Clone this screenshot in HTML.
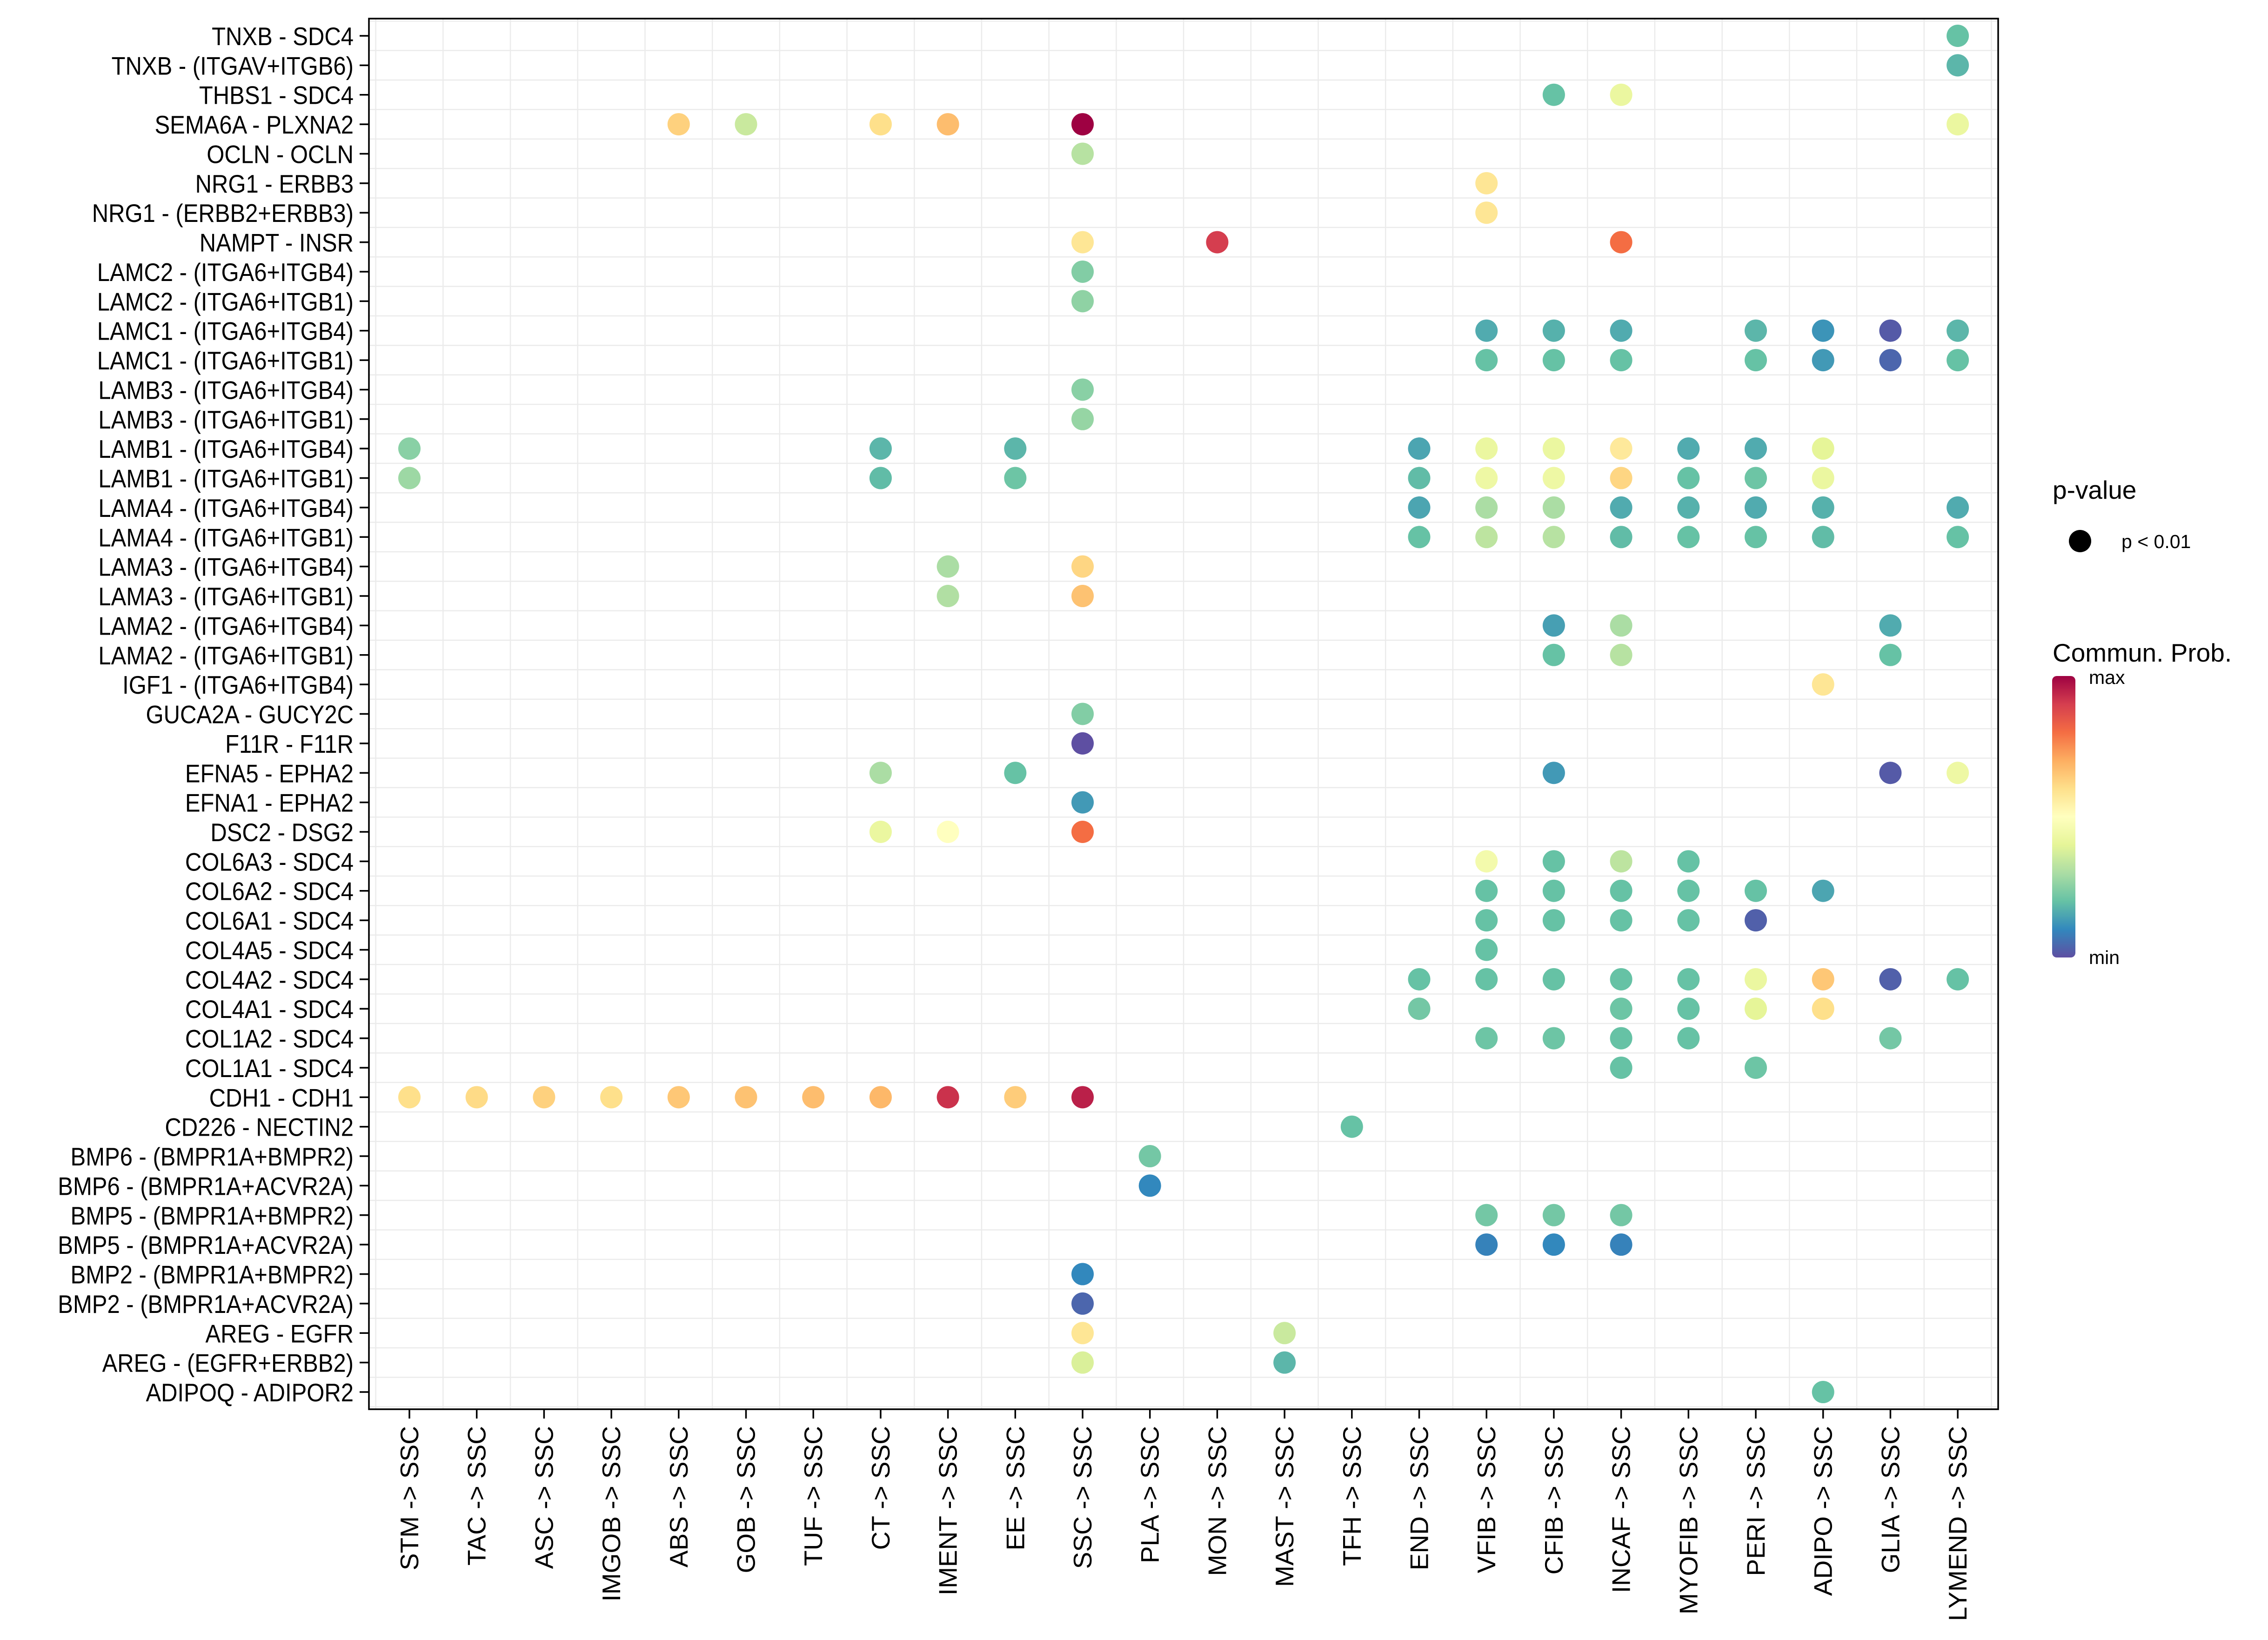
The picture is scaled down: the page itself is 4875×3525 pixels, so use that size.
<!DOCTYPE html>
<html><head><meta charset="utf-8"><style>
html,body{margin:0;padding:0;background:#fff;overflow:hidden}
svg{display:block}
text{font-family:"Liberation Sans",Arial,sans-serif;fill:#000}
</style></head><body>
<svg id="chart" width="4875" height="3525" viewBox="0 0 4875 3525" xmlns="http://www.w3.org/2000/svg">
<rect width="4875" height="3525" fill="#fff"/>
<g id="grid"></g>
<g id="dots"></g>
<rect x="793" y="40" width="3502" height="2989" fill="none" stroke="#000" stroke-width="3.5"/>
<g id="ylabels"></g>
<g id="xlabels"></g>
<g>
<text font-size="55" x="4412" y="1072">p-value</text>
<ellipse cx="4471" cy="1163" rx="24" ry="24" fill="#000"/>
<text font-size="41" x="4560" y="1178">p &lt; 0.01</text>
</g>
<g>
<defs><linearGradient id="cg" x1="0" y1="1" x2="0" y2="0">
<stop offset="0" stop-color="#5E4FA2"/><stop offset="0.1" stop-color="#3288BD"/><stop offset="0.2" stop-color="#66C2A5"/><stop offset="0.3" stop-color="#ABDDA4"/><stop offset="0.4" stop-color="#E6F598"/><stop offset="0.5" stop-color="#FFFFBF"/><stop offset="0.6" stop-color="#FEE08B"/><stop offset="0.7" stop-color="#FDAE61"/><stop offset="0.8" stop-color="#F46D43"/><stop offset="0.9" stop-color="#D53E4F"/><stop offset="1" stop-color="#9E0142"/>
</linearGradient></defs>
<text font-size="55" x="4412" y="1422">Commun. Prob.</text>
<rect x="4411" y="1453" width="50" height="605" rx="10" fill="url(#cg)"/>
<text font-size="41" x="4490" y="1470">max</text>
<text font-size="41" x="4490" y="2072">min</text>
</g>
</svg>
<script>
const rowNames = ["TNXB - SDC4","TNXB - (ITGAV+ITGB6)","THBS1 - SDC4","SEMA6A - PLXNA2","OCLN - OCLN","NRG1 - ERBB3","NRG1 - (ERBB2+ERBB3)","NAMPT - INSR","LAMC2 - (ITGA6+ITGB4)","LAMC2 - (ITGA6+ITGB1)","LAMC1 - (ITGA6+ITGB4)","LAMC1 - (ITGA6+ITGB1)","LAMB3 - (ITGA6+ITGB4)","LAMB3 - (ITGA6+ITGB1)","LAMB1 - (ITGA6+ITGB4)","LAMB1 - (ITGA6+ITGB1)","LAMA4 - (ITGA6+ITGB4)","LAMA4 - (ITGA6+ITGB1)","LAMA3 - (ITGA6+ITGB4)","LAMA3 - (ITGA6+ITGB1)","LAMA2 - (ITGA6+ITGB4)","LAMA2 - (ITGA6+ITGB1)","IGF1 - (ITGA6+ITGB4)","GUCA2A - GUCY2C","F11R - F11R","EFNA5 - EPHA2","EFNA1 - EPHA2","DSC2 - DSG2","COL6A3 - SDC4","COL6A2 - SDC4","COL6A1 - SDC4","COL4A5 - SDC4","COL4A2 - SDC4","COL4A1 - SDC4","COL1A2 - SDC4","COL1A1 - SDC4","CDH1 - CDH1","CD226 - NECTIN2","BMP6 - (BMPR1A+BMPR2)","BMP6 - (BMPR1A+ACVR2A)","BMP5 - (BMPR1A+BMPR2)","BMP5 - (BMPR1A+ACVR2A)","BMP2 - (BMPR1A+BMPR2)","BMP2 - (BMPR1A+ACVR2A)","AREG - EGFR","AREG - (EGFR+ERBB2)","ADIPOQ - ADIPOR2"];
const colNames = ["STM -> SSC","TAC -> SSC","ASC -> SSC","IMGOB -> SSC","ABS -> SSC","GOB -> SSC","TUF -> SSC","CT -> SSC","IMENT -> SSC","EE -> SSC","SSC -> SSC","PLA -> SSC","MON -> SSC","MAST -> SSC","TFH -> SSC","END -> SSC","VFIB -> SSC","CFIB -> SSC","INCAF -> SSC","MYOFIB -> SSC","PERI -> SSC","ADIPO -> SSC","GLIA -> SSC","LYMEND -> SSC"];
// points: row index, column index, scaled probability (0=min,1=max)
const ptRow = [0,1,2,2,3,3,3,3,3,3,4,5,6,7,7,7,8,9,10,10,10,10,10,10,10,11,11,11,11,11,11,11,12,13,14,14,14,14,14,14,14,14,14,14,15,15,15,15,15,15,15,15,15,15,16,16,16,16,16,16,16,16,17,17,17,17,17,17,17,17,18,18,19,19,20,20,20,21,21,21,22,23,24,25,25,25,25,25,26,27,27,27,28,28,28,28,29,29,29,29,29,29,30,30,30,30,30,31,32,32,32,32,32,32,32,32,32,33,33,33,33,33,34,34,34,34,34,35,35,36,36,36,36,36,36,36,36,36,36,36,37,38,39,40,40,40,41,41,41,42,43,44,44,45,45,46];
const ptCol = [23,23,17,18,4,5,7,8,10,23,10,16,16,10,12,18,10,10,16,17,18,20,21,22,23,16,17,18,20,21,22,23,10,10,0,7,9,15,16,17,18,19,20,21,0,7,9,15,16,17,18,19,20,21,15,16,17,18,19,20,21,23,15,16,17,18,19,20,21,23,8,10,8,10,17,18,22,17,18,22,21,10,10,7,9,17,22,23,10,7,8,10,16,17,18,19,16,17,18,19,20,21,16,17,18,19,20,16,15,16,17,18,19,20,21,22,23,15,18,19,20,21,16,17,18,19,22,18,20,0,1,2,3,4,5,6,7,8,9,10,14,11,11,16,17,18,16,17,18,10,10,10,13,10,13,21];
const ptVal = [0.2,0.18,0.2,0.42,0.63,0.35,0.6,0.67,1.0,0.42,0.32,0.58,0.58,0.58,0.9,0.8,0.24,0.26,0.16,0.17,0.16,0.18,0.12,0.02,0.18,0.2,0.2,0.2,0.2,0.13,0.04,0.2,0.25,0.27,0.25,0.18,0.18,0.15,0.42,0.42,0.57,0.16,0.16,0.4,0.28,0.19,0.21,0.19,0.43,0.43,0.62,0.2,0.21,0.42,0.15,0.3,0.3,0.16,0.17,0.16,0.17,0.16,0.2,0.33,0.32,0.19,0.2,0.2,0.19,0.2,0.3,0.62,0.31,0.66,0.14,0.3,0.16,0.2,0.32,0.2,0.58,0.24,0.0,0.3,0.2,0.13,0.02,0.43,0.13,0.42,0.5,0.8,0.45,0.2,0.33,0.2,0.2,0.2,0.2,0.2,0.2,0.15,0.2,0.2,0.2,0.2,0.03,0.2,0.2,0.2,0.2,0.2,0.2,0.42,0.65,0.03,0.2,0.22,0.21,0.2,0.4,0.6,0.21,0.21,0.2,0.2,0.22,0.2,0.21,0.6,0.61,0.63,0.6,0.65,0.66,0.67,0.68,0.92,0.64,0.95,0.2,0.22,0.1,0.22,0.22,0.22,0.09,0.1,0.09,0.1,0.04,0.58,0.35,0.38,0.18,0.2];

const NS="http://www.w3.org/2000/svg";
const PL=793, PR=4295, PT=40, PB=3029;
const x0=880, xStep=144.7, y0=77, yStep=63.37;
function xPos(c){return x0+c*xStep;}
function yPos(r){return y0+r*yStep;}
const stops=["#5E4FA2","#3288BD","#66C2A5","#ABDDA4","#E6F598","#FFFFBF","#FEE08B","#FDAE61","#F46D43","#D53E4F","#9E0142"];
function hex(h){return [1,3,5].map(i=>parseInt(h.substr(i,2),16));}
function colorOf(v){v=Math.max(0,Math.min(1,v));const t=v*10,i=Math.min(9,Math.floor(t)),f=t-i;const a=hex(stops[i]),b=hex(stops[i+1]);return "rgb("+a.map((x,k)=>Math.round(x+(b[k]-x)*f)).join(",")+")";}
function mk(tag,attrs,parent){const e=document.createElementNS(NS,tag);for(const k in attrs)e.setAttribute(k,attrs[k]);parent.appendChild(e);return e;}
const grid=document.getElementById('grid'),dots=document.getElementById('dots'),yl=document.getElementById('ylabels'),xl=document.getElementById('xlabels');
for(let r=-1;r<rowNames.length;r++){
  const y=yPos(r)+yStep/2;
  if(y<=PT||y>=PB) continue;
  const g=mk('line',{x1:PL,x2:PR,y1:y,y2:y,stroke:'#ebebeb','stroke-width':2.5},grid);
  
  
}
for(let c=-1;c<colNames.length;c++){
  const x=xPos(c)+xStep/2;
  if(x<=PL||x>=PR) continue;
  const g=mk('line',{x1:x,x2:x,y1:PT,y2:PB,stroke:'#ebebeb','stroke-width':2.5},grid);
  
  
}
rowNames.forEach((n,r)=>{
  const y=yPos(r);
  const t=mk('text',{'text-anchor':'end','font-size':49,transform:'translate(760,'+(y+20)+') scale(1,1.12)'},yl);
  t.textContent=n;
  
  
  const tk=mk('line',{x1:773,x2:PL,y1:y,y2:y,stroke:'#000','stroke-width':3.5},yl);
  
  
});
colNames.forEach((n,c)=>{
  const x=xPos(c);
  const t=mk('text',{'text-anchor':'end','font-size':55,transform:'translate('+(x+19)+',3065) rotate(-90)'},xl);
  t.textContent=n;
  
  
  const tk=mk('line',{x1:x,x2:x,y1:PB,y2:3049,stroke:'#000','stroke-width':3.5},xl);
  
  
});
for(let i=0;i<ptVal.length;i++){
  const d=mk('ellipse',{cx:xPos(ptCol[i]),cy:yPos(ptRow[i]),rx:24,ry:24,fill:colorOf(ptVal[i])},dots);
  
  
}
</script>
</body></html>
